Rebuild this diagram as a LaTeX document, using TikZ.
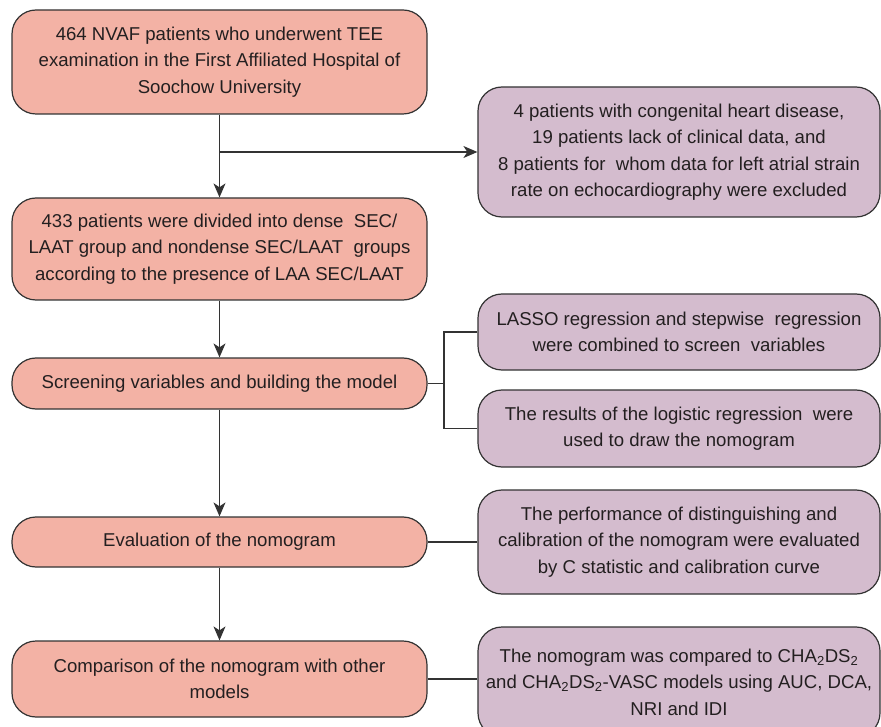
\documentclass[tikz,border=0pt]{standalone}
\usepackage{fontspec}
\setmainfont{Liberation Sans}
\usetikzlibrary{arrows.meta}
\definecolor{salmon}{HTML}{F3B2A5}
\definecolor{lilac}{HTML}{D4BCCE}
\definecolor{edge}{HTML}{333333}
\definecolor{ink}{HTML}{231F20}

\begin{document}
\begin{tikzpicture}[x=1pt,y=-1pt,>={Stealth[length=14pt,width=12pt,inset=4pt]},
  stage/.style={draw=edge,line width=1.2pt,fill=salmon,rounded corners=24pt,
    minimum width=415pt,inner sep=0pt,align=center,text=ink,
    font=\fontsize{18.6}{26.5}\selectfont},
  note/.style={stage,fill=lilac,minimum width=402pt},
  link/.style={draw=edge,line width=1.2pt}]
\useasboundingbox (0,0) rectangle (881,727);
% main steps on the left
\node[stage,minimum height=104pt] (pop) at (219.5,62)
  {464 NVAF patients who underwent TEE\\examination in the First Affiliated Hospital of\\Soochow University};
\node[stage,minimum height=102pt] (grp) at (219.5,249)
  {433 patients were divided into dense\ \ SEC/\\LAAT group and nondense SEC/LAAT\ \ groups\\according to the presence of LAA SEC/LAAT};
\node[stage,minimum height=51pt] (scr) at (219.5,383.5)
  {Screening variables and building the model};
\node[stage,minimum height=50pt] (eval) at (219.5,542)
  {Evaluation of the nomogram};
\node[stage,minimum height=76pt] (comp) at (219.5,679)
  {Comparison of the nomogram with other\\models};
% side notes on the right
\node[note,minimum height=130pt] (excl) at (679,152)
  {4 patients with congenital heart disease,\\19 patients lack of clinical data, and\\8 patients for\ \ whom data for left atrial strain\\rate on echocardiography were excluded};
\node[note,minimum height=76pt] (lasso) at (679,332)
  {LASSO regression and stepwise\ \ regression\\were combined to screen\ \ variables};
\node[note,minimum height=77pt] (logi) at (679,428.5)
  {The results of the logistic regression\ \ were\\used to draw the nomogram};
\node[note,minimum height=104pt] (perf) at (679,542)
  {The performance of distinguishing and\\calibration of the nomogram were evaluated\\by C statistic and calibration curve};
\node[note,minimum height=110pt] (auc) at (679,682)
  {The nomogram was compared to CHA\textsubscript{2}DS\textsubscript{2}\\and CHA\textsubscript{2}DS\textsubscript{2}-VASC models using AUC, DCA,\\NRI and IDI};
% connectors
\coordinate (split) at (pop.south |- excl.west);
\coordinate (fork) at (444,383.5);
\draw[link,->] (pop.south) -- (grp.north);
\draw[link,->] (split) -- (excl.west);
\draw[link,->] (grp.south) -- (scr.north);
\draw[link] (scr.east) -- (fork);
\draw[link] (lasso.west) -| (fork) |- (logi.west);
\draw[link,->] (scr.south) -- (eval.north);
\draw[link] (eval.east) -- (eval.east -| perf.west);
\draw[link,->] (eval.south) -- (comp.north);
\draw[link] (comp.east) -- (comp.east -| auc.west);
\end{tikzpicture}
\end{document}
